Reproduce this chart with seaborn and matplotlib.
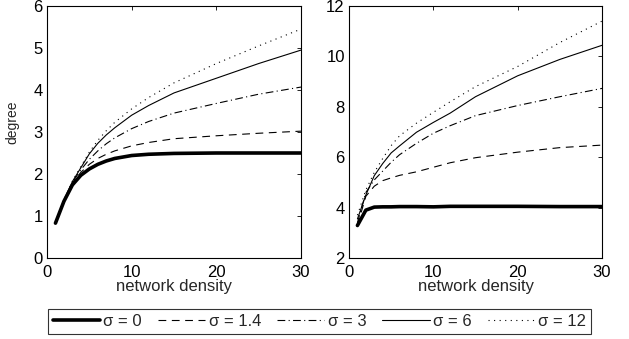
import numpy as np
import pandas as pd
import matplotlib
matplotlib.use("Agg")
import matplotlib.pyplot as plt
import seaborn as sns

# ---- data ----
sigmas = ["σ = 0", "σ = 1.4", "σ = 3", "σ = 6", "σ = 12"]

x_left = [1, 2, 3, 4, 5, 6, 7, 8, 10, 12, 15, 20, 25, 30]
left_s0 = [0.83, 1.35, 1.74, 1.97, 2.12, 2.23, 2.31, 2.37, 2.44, 2.47, 2.49, 2.50, 2.50, 2.50]
left_s14 = [0.83, 1.37, 1.78, 2.04, 2.23, 2.37, 2.47, 2.55, 2.67, 2.75, 2.84, 2.91, 2.97, 3.02]
left_s3 = [0.83, 1.38, 1.80, 2.10, 2.35, 2.55, 2.72, 2.86, 3.08, 3.25, 3.45, 3.68, 3.90, 4.07]
left_s6 = [0.83, 1.38, 1.82, 2.15, 2.48, 2.73, 2.93, 3.10, 3.40, 3.63, 3.93, 4.28, 4.63, 4.95]
left_s12 = [0.83, 1.38, 1.83, 2.18, 2.52, 2.80, 3.03, 3.23, 3.55, 3.82, 4.17, 4.63, 5.05, 5.45]

x_right = [1, 2, 3, 4, 5, 6, 8, 10, 12, 15, 20, 25, 30]
right_s0 = [3.29, 3.90, 4.02, 4.03, 4.03, 4.04, 4.04, 4.03, 4.05, 4.05, 4.05, 4.04, 4.04]
right_s14 = [3.30, 4.45, 4.85, 5.07, 5.18, 5.28, 5.42, 5.60, 5.78, 5.98, 6.20, 6.38, 6.48]
right_s3 = [3.40, 4.60, 5.10, 5.45, 5.80, 6.10, 6.55, 6.95, 7.25, 7.65, 8.05, 8.40, 8.73]
right_s6 = [3.55, 4.50, 5.27, 5.75, 6.17, 6.45, 6.99, 7.38, 7.75, 8.40, 9.23, 9.88, 10.44]
right_s12 = [3.70, 4.70, 5.40, 5.95, 6.46, 6.85, 7.35, 7.78, 8.20, 8.80, 9.60, 10.55, 11.40]

xticks = [0, 10, 20, 30]
left_yticks = [0, 1, 2, 3, 4, 5, 6]
right_yticks = [2, 4, 6, 8, 10, 12]

styles = {
    "σ = 0": dict(lw=2.6, ls="-"),
    "σ = 1.4": dict(lw=0.8, ls=(0, (7, 5))),
    "σ = 3": dict(lw=0.8, ls=(0, (7, 3, 1, 3))),
    "σ = 6": dict(lw=0.8, ls="-"),
    "σ = 12": dict(lw=0.8, ls=(0, (1, 4))),
}

FS = 12

sns.set_style("white")
plt.rcParams["font.family"] = ["Liberation Sans", "DejaVu Sans"]

fig = plt.figure(figsize=(6.29, 3.39), dpi=100)
axL = fig.add_axes([47 / 629, 1 - 258 / 339, 254 / 629, 252 / 339])
axR = fig.add_axes([349 / 629, 1 - 258 / 339, 253 / 629, 252 / 339])

def draw(ax, xs, series, ylim, yticks):
    for name, ys in zip(sigmas, series):
        df = pd.DataFrame({"x": xs, "y": ys})
        st = styles[name]
        sns.lineplot(data=df, x="x", y="y", ax=ax, color="black",
                     linewidth=st["lw"], linestyle=st["ls"], label=name,
                     legend=False)
    ax.set_xlim(0, 30)
    ax.set_ylim(*ylim)
    ax.set_xticks(xticks)
    ax.set_yticks(yticks)
    ax.set_xlabel("network density", fontsize=FS, labelpad=-1)
    ax.set_ylabel("")
    ax.tick_params(direction="in", top=True, right=True, length=3,
                   width=0.6, labelsize=FS, colors="black")
    ax.tick_params(axis="x", pad=5)
    ax.tick_params(axis="y", pad=3)
    for sp in ax.spines.values():
        sp.set_color("black")
        sp.set_linewidth(0.8)

draw(axL, x_left, [left_s0, left_s14, left_s3, left_s6, left_s12], (0, 6), left_yticks)
draw(axR, x_right, [right_s0, right_s14, right_s3, right_s6, right_s12], (2, 12), right_yticks)

fig.text(12 / 629, 1 - 122 / 339, "degree", rotation=90, fontsize=FS - 2,
         ha="center", va="center")

handles, labels = axL.get_legend_handles_labels()
leg = fig.legend(handles, labels, loc="center", ncol=5,
                 bbox_to_anchor=((51 + 588) / 2 / 629, 1 - 321 / 339),
                 frameon=True, fancybox=False, fontsize=FS,
                 handlelength=2.85, handletextpad=0.2, columnspacing=0.95,
                 borderpad=0.3, borderaxespad=0)
leg.get_frame().set_edgecolor("black")
leg.get_frame().set_linewidth(0.8)

fig.savefig("out.png", dpi=100)
